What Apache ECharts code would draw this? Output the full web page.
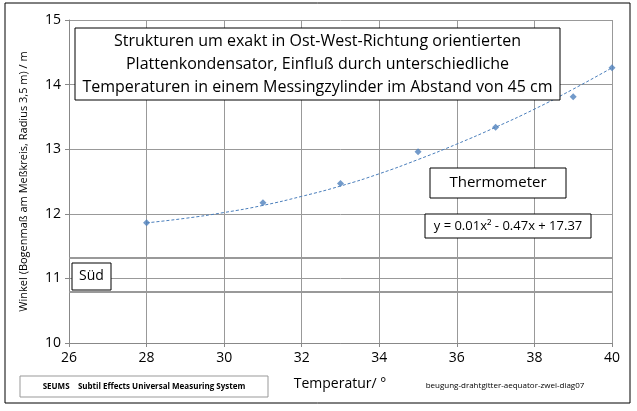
<!DOCTYPE html><html><head><meta charset="utf-8"><script src="https://cdn.jsdelivr.net/npm/echarts@6/dist/echarts.min.js"></script>
<style>body{margin:0}#c{width:637px;height:411px}</style></head><body><div id="c"></div><script>
const temps=[28,31,33,35,37,39,40];
const angles=[11.86,12.17,12.47,12.96,13.34,13.81,14.26];
const trendX=[28,29,30,31,32,33,34,35,36,37,38,39,40];
const trendY=[11.86,11.93,12.02,12.13,12.27,12.43,12.62,12.84,13.08,13.34,13.62,13.93,14.26];
const bands=[11.32,10.8];
const F='"Open Sans", sans-serif';
const c=echarts.init(document.getElementById('c'));
function box(x,y,w,h,text,fs,stroke,lh,bold){return {type:'group',children:[
{type:'rect',shape:{x:x,y:y,width:w,height:h},style:{fill:'#fff',stroke:stroke||'#000',lineWidth:1},z:10},
{type:'text',x:x+w/2,y:y+h/2,style:{text:text,font:(bold?'bold ':'')+fs+'px '+F,fill:'#000',align:'center',verticalAlign:'middle',lineHeight:lh||fs*1.3},z:11}]};}
c.setOption({animation:false,
grid:{left:69,right:25,top:20,bottom:68},
xAxis:{type:'value',min:26,max:40,interval:2,axisLine:{lineStyle:{color:'#888'}},axisTick:{length:4,lineStyle:{color:'#888'}},
 axisLabel:{color:'#000',fontFamily:F,fontSize:14,margin:8},splitLine:{lineStyle:{color:'#999'}}},
yAxis:{type:'value',min:10,max:15,interval:1,axisLine:{show:true,lineStyle:{color:'#888'}},axisTick:{show:true,length:4,lineStyle:{color:'#888'}},
 axisLabel:{color:'#000',fontFamily:F,fontSize:14},splitLine:{lineStyle:{color:'#999'}},
 name:'Winkel (Bogenmaß am Meßkreis, Radius 3,5 m) / m',nameLocation:'middle',nameGap:40,nameTextStyle:{fontFamily:F,fontSize:11,color:'#000'}},
series:[
{type:'line',data:trendX.map((x,i)=>[x,trendY[i]]),smooth:true,symbol:'none',lineStyle:{color:'#4a7ebb',width:1,type:[3,2]},
 markLine:{silent:true,symbol:'none',label:{show:false},lineStyle:{color:'#999',width:2,type:'solid'},data:bands.map(v=>({yAxis:v}))}},
{type:'scatter',data:temps.map((x,i)=>[x,angles[i]]),symbol:'diamond',symbolSize:7,itemStyle:{color:'#4f81bd'}}],
graphic:[
{type:'rect',shape:{x:5,y:3,width:625,height:400},style:{fill:'none',stroke:'#000',lineWidth:1},silent:true},
box(75,28,485,72,'Strukturen um exakt in Ost-West-Richtung orientierten\nPlattenkondensator, Einfluß durch unterschiedliche\nTemperaturen in einem Messingzylinder im Abstand von 45 cm',16,'#000',23),
box(430,168,136,30,'Thermometer',15),
box(425,214,166,24,'y = 0.01x² - 0.47x + 17.37',13),
box(72,263,39,27,'Süd',14),
box(20,376,248,21,'SEUMS    Subtil Effects Universal Measuring System',8,'#999',10,true),
{type:'text',x:340,y:384,style:{text:'Temperatur/ °',font:'14px '+F,fill:'#000',align:'center',verticalAlign:'middle'}},
{type:'text',x:505,y:386,style:{text:'beugung-drahtgitter-aequator-zwei-diag07',font:'8px '+F,fill:'#000',align:'center',verticalAlign:'middle'}}
]});
</script></body></html>
